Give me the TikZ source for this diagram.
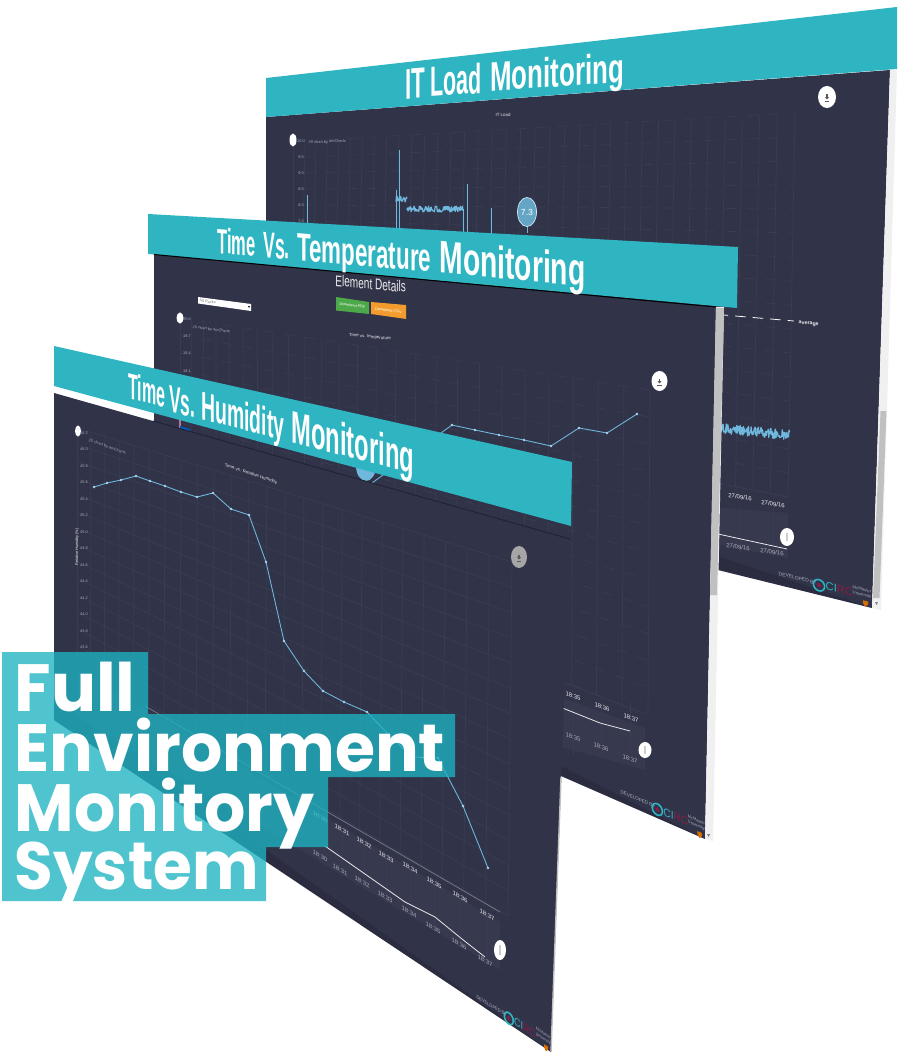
\documentclass[tikz,border=0pt]{standalone}
\usepackage{fontspec}
\setmainfont{Liberation Sans}
\newfontfamily\boxfont{Poppins}
\usetikzlibrary{calc,shapes.geometric}

\definecolor{panelblue}{RGB}{49,51,73}
\definecolor{panelshade}{RGB}{32,33,50}
\definecolor{stripgray}{RGB}{240,240,240}
\definecolor{scrollgray}{RGB}{192,192,192}
\definecolor{bannerteal}{RGB}{47,181,194}
\definecolor{boxteal}{RGB}{29,179,194}
\definecolor{gridgray}{RGB}{58,60,82}
\definecolor{navgray}{RGB}{55,57,79}
\definecolor{dataline}{RGB}{111,183,220}
\definecolor{ticktext}{RGB}{170,171,185}
\definecolor{logored}{RGB}{135,30,70}
\definecolor{buttongreen}{RGB}{76,168,72}
\definecolor{buttonorange}{RGB}{243,156,45}

% rows, columns, skew of the columns, line look
\newcommand{\chartgrid}[4]{
  \foreach \k in {0,...,#1}
    \draw[gridline,#4] ($(tl)!\k/#1!(bl)$) -- ($(tr)!\k/#1!(br)$);
  \foreach \k in {0,...,#2} {
    \pgfmathsetmacro{\gridt}{(\k/#2)*(1-#3+#3*\k/#2)}
    \draw[gridline] ($(tl)!\gridt!(tr)$) -- ($(bl)!\gridt!(br)$);
  }
}
% name, x, y, width, height, fill
\newcommand{\savebutton}[6]{
  \node[ellipse, fill=#6, minimum width=#4cm, minimum height=#5cm, inner sep=0pt] (#1) at (#2,#3) {};
  \fill[gray!70!black] ($(#1)+(-.6,-2.5)$) rectangle ($(#1)+(.6,.5)$);
  \fill[gray!70!black] ($(#1)+(-2,.2)$) -- ($(#1)+(2,.2)$) -- ($(#1)+(0,2.4)$) -- cycle;
  \fill[gray!70!black] ($(#1)+(-2.2,3.6)$) rectangle ($(#1)+(2.2,4)$);
}
% name, x, y, slope, width factor
\newcommand{\footerlogo}[5]{
  \begin{scope}[shift={(#2,#3)}, yslant=#4, xscale=#5, transform shape]
    \node[logotext, text=ticktext, anchor=base west] (#1dev) at (0,0) {DEVELOPED BY};
    \draw[bannerteal, line width=.45pt] (41,0) circle (1.6pt);
    \fill[logored] (41,0) circle (.6pt);
    \node[logotext, text=bannerteal, anchor=base west, font=\fontsize{3.2}{4}\selectfont] (#1ci) at (47,3) {CI};
    \node[logotext, text=logored, anchor=base west, font=\fontsize{3.2}{4}\selectfont] (#1rc) at (58,3) {RC};
    \node[logotext, text=ticktext, anchor=base west, font=\fontsize{1.2}{1.5}\selectfont, align=left] (#1mc) at (74,0) {McMaster\\University};
    \fill[orange!85!black] (85,4) -- (90,4) -- (90,7) -- (87.5,10) -- (85,7) -- cycle;
  \end{scope}
}

\begin{document}
\begin{tikzpicture}[
    x=.01cm, y=-.01cm,
    panel/.style={fill=panelblue},
    banner/.style={fill=bannerteal},
    gridline/.style={draw=gridgray, line width=.2pt},
    plotline/.style={draw=dataline, line width=.25pt, line join=round},
    datapoint/.style={fill=dataline!60!white},
    handle/.style={ellipse, fill=white, inner sep=0pt},
    navband/.style={fill=navgray},
    navline/.style={draw=white!85!gray, line width=.22pt},
    titleword/.style n args={3}{anchor=base west, text=white, font=\fontsize{12}{14}\selectfont\bfseries,
      inner sep=0pt, transform shape, yslant=#1, xscale=#2, yscale=#3},
    ticklabel/.style={text=ticktext, font=\fontsize{1.1}{1.5}\selectfont, inner sep=0pt},
    slantlabel/.style={text=white!85!gray, font=\fontsize{1.7}{2}\selectfont, inner sep=0pt, transform shape, yslant=#1},
    chartname/.style={slantlabel=#1, font=\fontsize{1.25}{2}\selectfont},
    logotext/.style={font=\fontsize{1.4}{2}\selectfont, inner sep=0pt},
    bigline/.style={anchor=base west, text=white, font=\boxfont\fontsize{19}{22}\selectfont\bfseries,
      inner sep=0pt, transform shape, xscale=#1}
  ]
  \useasboundingbox (0,0) rectangle (903,1058);

  % back screen
  \fill[panel] (266,117) -- (890,70) -- (872,608) -- (600,541) -- (266,459) -- cycle;
  \fill[stripgray] (890,70) -- (897,70) -- (881,610) -- (872,608) -- cycle;
  \fill[scrollgray] (880.5,411) -- (886.5,411) -- (879.5,598) -- (873,598) -- cycle;
  \fill[gray] (875,602) -- (878,602) -- (876.5,605) -- cycle;
  \fill[panelshade, fill opacity=.35] (700,550) -- (872,608) -- (700,564.5) -- cycle;

  \coordinate (tl) at (305,141);
  \coordinate (tr) at (795,113);
  \coordinate (bl) at (300,397);
  \coordinate (br) at (788,497);
  \chartgrid{16}{34}{.24}{dashed}

  \draw[gridline] (293,140) -- (293,300);
  \node[handle, minimum width=.07cm, minimum height=.13cm] (backhandle) at (293,140) {};
  \foreach \lab [count=\k from 0] in {10.0,9.5,9.0,8.5,8.0,7.5}
    \node[ticklabel] (backtick\k) at (301,{141+16*\k}) {\lab};
  \node[ticklabel, anchor=west, transform shape, yslant=.05] (backcredit) at (308,143) {JS chart by amCharts};
  \node[chartname=.05] (backtitle) at (503,115) {IT Load};

  \foreach \sx/\sy in {307/195,396/190,399/150,467/184,491/208}
    \draw[plotline] (\sx,\sy) -- (\sx,233);
  \draw[plotline, line width=.35pt] plot[domain=396:407, samples=24] (\x,{199+3*rand});
  \draw[plotline, line width=.35pt] plot[domain=407:463, samples=110] (\x,{209+3*rand});
  \draw[plotline] (463,209) -- (463,233);
  \draw[plotline, line width=.35pt] plot[domain=718:790, samples=140] (\x,{428+(\x-718)*.1+5*rand});

  \draw[plotline] (527,225) -- (527,233);
  \node[ellipse, fill=dataline!90!black, draw=white!70!dataline, line width=.2pt, minimum width=.19cm, minimum height=.29cm, inner sep=0pt,
    text=white, font=\fontsize{2.5}{3}\selectfont] (backpin) at (527,212) {7.3};

  \draw[white, densely dashed, line width=.22pt] (700,313) -- (794,321);
  \node[slantlabel=-.08, anchor=west, font=\fontsize{1.5}{2}\selectfont\bfseries] (backaverage) at (798,323) {average};

  \fill[navband] (700,506) -- (788,513) -- (788,558) -- (700,541) -- cycle;
  \draw[gridline] (700,480) -- (788,497);
  \foreach \nx in {740,773}
    \draw[gridline] (\nx,508) -- (\nx,552);
  \draw[navline] (700,530) -- (718,534) -- (787,549);
  \node[slantlabel=-.15] (backtop1) at (740,497) {27/09/16};
  \node[slantlabel=-.15] (backtop2) at (773,504) {27/09/16};
  \node[slantlabel=-.15, text=ticktext] (backlow1) at (738,547) {27/09/16};
  \node[slantlabel=-.15, text=ticktext] (backlow2) at (772,552) {27/09/16};
  \node[handle, minimum width=.14cm, minimum height=.18cm] (backgrip) at (787,537) {};
  \fill[gray!40] (786,533) rectangle (788,541);
  \footerlogo{backlogo}{778}{575}{-.25}{1}
  \savebutton{backsave}{827}{97}{.18}{.22}{white}

  \fill[banner] (266,78) -- (897,7) -- (897,69) -- (266,117) -- cycle;
  \node[titleword={.075}{.53}{1.02}] (itword) at (405,99.5) {IT};
  \node[titleword={.075}{.51}{1}] (loadword) at (430,97) {Load};
  \node[titleword={.07}{.613}{.98}] (monword) at (490,91.5) {Monitoring};

  % middle screen
  \fill[panel] (154,254) -- (716,307) -- (705,839) -- (561,776) -- (154,597) -- cycle;
  \fill[stripgray] (716,307) -- (724,307) -- (713,841) -- (705,839) -- cycle;
  \fill[scrollgray] (716,308) -- (724,308) -- (717,595) -- (710,595) -- cycle;
  \fill[gray] (707,834) -- (710,834) -- (708.5,837) -- cycle;
  \fill[panelshade, fill opacity=.35] (500,735) -- (705,839) -- (500,749) -- cycle;

  \coordinate (tl) at (180,318);
  \coordinate (tr) at (650,390);
  \coordinate (bl) at (180,528);
  \coordinate (br) at (648,715);
  \chartgrid{12}{25}{.41}{dashed}

  \draw[gridline] (180,318) -- (180,430);
  \node[handle, minimum width=.07cm, minimum height=.11cm] (midhandle) at (180,318) {};
  \foreach \lab [count=\k from 0] in {20.0,19.7,19.4,19.1}
    \node[ticklabel] (midtick\k) at (187,{319+17.3*\k}) {\lab};
  \node[ticklabel, anchor=west, transform shape, yslant=-.13] (midcredit) at (192,327) {JS chart by amCharts};
  \node[chartname=-.1] (midtitle) at (370,337) {Time vs. temperature};
  \node[anchor=base west, text=white!85!gray, font=\fontsize{4.4}{5}\selectfont, inner sep=0pt, transform shape, yslant=-.09, xscale=.65] (elementtitle) at (335,286) {Element Details};

  \fill[white] (198,297) -- (251,304) -- (251,311) -- (198,303.5) -- cycle;
  \node[ticklabel, text=gray, anchor=west, transform shape, yslant=-.13] (selecttext) at (199,300.5) {All Racks};
  \fill[black] (248,306) -- (250,306.3) -- (249,308) -- cycle;
  \fill[buttongreen] (336,297) -- (369,302) -- (369,314) -- (336,310.5) -- cycle;
  \fill[buttonorange] (371,302) -- (406,305) -- (406,319) -- (371,314) -- cycle;
  \node[ticklabel, text=white, transform shape, yslant=-.12] (pdfbutton) at (352.5,305.5) {Download PDF};
  \node[ticklabel, text=white, transform shape, yslant=-.12] (csvbutton) at (388.5,310.5) {Download CSV};

  \node[ellipse, fill=dataline, minimum width=.2cm, minimum height=.3cm, inner sep=0pt] (midpin) at (366,466) {};
  \draw[plotline] (372,483) -- (452,425) -- (475,430) -- (499,435) -- (524,440) -- (551,446) -- (579,428) -- (607,433) -- (637,414);
  \foreach \px/\py in {452/425,475/430,499/435,524/440,551/446,579/428,607/433,637/414}
    \fill[datapoint] (\px,\py) circle (.4pt);

  \draw[draw=magenta!40!gray, line width=.3pt] (180,418) -- (180,428);
  \fill[blue!50!cyan!70!black] (180,426) -- (190,429) -- (190,432) -- (180,429) -- cycle;

  \fill[navband] (555,695) -- (645,728) -- (645,770) -- (555,745) -- cycle;
  \draw[gridline] (555,679) -- (645,714);
  \foreach \nx in {573,601,630}
    \draw[gridline] (\nx,702) -- (\nx,755);
  \draw[navline] (555,705) -- (600,723) -- (630,731);
  \foreach \nx/\ny/\lab in {573/696/18:35,602/707/18:36,631/718/18:37}
    \node[slantlabel=-.35] (midtop\nx) at (\nx,\ny) {\lab};
  \foreach \nx/\ny/\lab in {573/737/18:35,601/747/18:36,630/759/18:37}
    \node[slantlabel=-.35, text=ticktext] (midlow\nx) at (\nx,\ny) {\lab};
  \node[handle, minimum width=.13cm, minimum height=.16cm] (midgrip) at (645,750) {};
  \fill[gray!40] (644,746) rectangle (646,754);
  \footerlogo{midlogo}{620}{793}{-.44}{.91}
  \savebutton{midsave}{659.5}{381}{.16}{.2}{white}

  \fill[banner] (148,214) -- (738,247) -- (737,308) -- (148,254) -- cycle;
  \draw[black, line width=.3pt] (154,254.5) -- (716,307);
  \node[titleword={-.09}{.39}{.83}] (timeword) at (217,253) {Time};
  \node[titleword={-.09}{.42}{.87}] (vsword) at (263,257) {Vs.};
  \node[titleword={-.09}{.53}{.93}] (tempword) at (297,260) {Temperature};
  \node[titleword={-.095}{.67}{1.08}] (tmonword) at (439,272.5) {Monitoring};

  % front screen
  \fill[panel] (54,393) -- (570,539) -- (551,1052) -- (54,720) -- cycle;
  \draw[gray!50, line width=.4pt] (561,777) -- (551,1052);
  \draw[panelshade, line width=.25pt] (153,421) -- (570,539);
  \fill[panelshade, fill opacity=.35] (54,700) -- (551,1052) -- (54,720) -- cycle;

  \coordinate (tl) at (77,428);
  \coordinate (tr) at (512,562);
  \coordinate (bl) at (77,662);
  \coordinate (br) at (508,916);
  \chartgrid{14}{24}{.255}{solid}

  \draw[gridline] (77,428) -- (77,662);
  \node[handle, minimum width=.06cm, minimum height=.11cm] (fronthandle) at (78,431) {};
  \foreach \lab [count=\k from 0] in {46.2,46.0,45.8,45.6,45.4,45.2,45.0,44.8,44.6,44.4,44.2,44.0,43.8,43.6}
    \node[ticklabel] (fronttick\k) at (84,{433+16.5*\k}) {\lab};
  \node[ticklabel, anchor=west, transform shape, yslant=-.35] (frontcredit) at (88,440) {JS chart by amCharts};
  \node[ticklabel, text=white!85!gray, rotate=90] (frontaxis) at (77,547) {Relative Humidity (\%)};
  \node[chartname=-.33] (fronttitle) at (251,474) {Time vs. Relative Humidity};

  \draw[plotline] (94,487) -- (107,483) -- (121,480) -- (136,476) -- (150,481) -- (165,486) -- (181,492) -- (197,497) -- (213,493) -- (231,509) -- (249,515) -- (266,562) -- (284,641) -- (304,671) -- (323,691) -- (344,702) -- (367,712) -- (389,735) -- (412,757) -- (438,758) -- (463,806) -- (488,868);
  \foreach \px/\py in {94/487,107/483,121/480,136/476,150/481,165/486,181/492,197/497,213/493,231/509,249/515,266/562,284/641,304/671,323/691,344/702,367/712,389/735,412/757,438/758,463/806,488/868}
    \fill[datapoint] (\px,\py) circle (.4pt);

  \fill[navband] (77,668) -- (500,922) -- (500,970) -- (77,716) -- cycle;
  \draw[draw=gridgray!70!white, line width=.22pt] (145,706) -- (500,912);
  \foreach \nx/\ny in {342/830,364/843,386/857,410/870,434/884,460/898,487/917}
    \draw[gridline] (\nx,\ny) -- (\nx,\ny+46);
  \draw[navline] (325,846) -- (405,902) -- (435,917) -- (462,939) -- (485,957);
  \foreach \nx/\ny/\lab in {320/817/18:30,342/830/18:31,364/843/18:32,386/857/18:33,410/868/18:34,434/883/18:35,460/897/18:36,487/915/18:37}
    \node[slantlabel=-.55] (fronttop\nx) at (\nx,\ny) {\lab};
  \foreach \nx/\ny/\lab in {320/856/18:30,340/870/18:31,362/882/18:32,385/897/18:33,409/912/18:34,433/928/18:35,459/944/18:36,485/961/18:37}
    \node[slantlabel=-.55, text=ticktext] (frontlow\nx) at (\nx,\ny) {\lab};
  \node[handle, minimum width=.12cm, minimum height=.2cm] (frontgrip) at (500,950) {};
  \fill[gray!40] (499,945) rectangle (501,955);
  \footerlogo{frontlogo}{476}{998}{-.62}{.8}
  \savebutton{frontsave}{519}{557}{.16}{.22}{gray!70!white}

  \fill[banner] (54,346) -- (572,462) -- (571,526) -- (54,386) -- cycle;
  \node[titleword={-.26}{.38}{.86}] (timeworda) at (128,398) {Time};
  \node[titleword={-.26}{.41}{.9}] (vsworda) at (169,411) {Vs.};
  \node[titleword={-.26}{.46}{.95}] (humword) at (201,419) {Humidity};
  \node[titleword={-.26}{.564}{1.08}] (hmonword) at (291,442) {Monitoring};

  % caption
  \fill[boxteal, fill opacity=.78] (2,652) -- (148,652) -- (148,714) -- (455,714) -- (455,777) -- (328,777) -- (328,847) -- (266,847) -- (266,901) -- (2,901) -- cycle;
  \node[bigline=1] (fullline) at (14,711) {Full};
  \node[bigline=.972] (envline) at (14,771) {Environment};
  \node[bigline=.97] (monline) at (14,831) {Monitory};
  \node[bigline=.94] (sysline) at (14,889) {System};
\end{tikzpicture}
\end{document}
